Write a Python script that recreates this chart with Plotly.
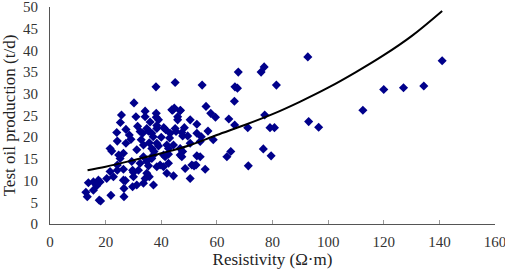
import plotly.graph_objects as go

# Scatter data: resistivity (ohm·m) vs test oil production (t/d)
resistivity = [
    67.7, 45.0, 38.1, 54.7, 66.5, 67.4, 30.2, 66.3, 56.1, 25.7,
    30.9, 34.2, 34.2, 38.2, 38.2, 39.0, 44.1, 46.9, 45.9, 45.9,
    50.4, 57.8, 59.5, 64.3, 25.3, 52.8, 56.8, 66.4, 71.1, 27.3,
    24.0, 34.8, 35.4, 32.4, 33.3, 36.6, 37.1, 38.4, 38.4, 40.9,
    41.6, 43.2, 45.0, 45.3, 47.4, 47.7, 48.3, 49.5, 52.8, 54.4,
    29.1, 24.2, 21.6, 22.2, 27.3, 32.8, 33.6, 35.7, 31.2, 36.6,
    37.4, 38.4, 39.0, 42.0, 42.6, 44.4, 46.8, 47.7, 50.4, 54.0,
    58.7, 24.7, 25.2, 26.4, 29.4, 29.7, 30.0, 26.4, 24.2, 21.6,
    20.4, 22.8, 26.4, 27.1, 30.0, 31.2, 29.7, 33.6, 37.2, 26.6,
    21.9, 26.6, 17.7, 18.2, 12.9, 13.4, 13.8, 15.6, 17.0, 17.4,
    18.0, 15.6, 16.8, 24.2, 33.6, 34.8, 35.4, 36.6, 37.2, 32.4,
    31.8, 34.8, 35.7, 34.2, 38.4, 39.6, 40.8, 42.0, 42.6, 44.4,
    40.8, 41.4, 42.6, 46.8, 47.4, 48.6, 50.4, 51.0, 51.8, 52.5,
    52.8, 54.0, 55.8, 63.6, 65.0, 43.8, 44.7, 46.8, 77.0, 75.9,
    81.4, 92.7, 141.0, 120.0, 127.1, 134.4, 112.5, 77.2, 79.1, 80.7,
    93.0, 96.6, 76.7, 79.5, 71.3, 28.5, 31.5, 36.0, 40.0, 43.0,
]
production = [
    35.0, 32.6, 31.6, 32.0, 31.6, 31.3, 27.9, 28.3, 27.1, 25.1,
    24.7, 26.0, 24.7, 25.5, 24.6, 24.0, 26.2, 26.2, 24.7, 24.0,
    24.0, 25.5, 24.6, 24.2, 23.4, 23.0, 21.4, 22.8, 22.2, 21.8,
    21.1, 22.0, 21.4, 21.3, 20.9, 20.9, 20.1, 22.7, 22.0, 22.2,
    21.7, 20.9, 22.0, 21.3, 21.1, 20.3, 22.2, 20.3, 20.9, 20.1,
    19.5, 19.1, 17.4, 16.8, 18.6, 19.4, 18.2, 18.7, 17.1, 17.4,
    16.7, 18.6, 18.0, 18.2, 17.4, 18.2, 17.4, 16.7, 18.6, 19.0,
    19.4, 15.9, 15.1, 16.3, 14.4, 12.4, 11.9, 12.6, 12.4, 12.1,
    10.5, 10.9, 10.1, 10.0, 10.9, 9.0, 8.6, 9.4, 9.0, 8.2,
    6.6, 6.3, 5.5, 5.3, 7.3, 6.3, 9.5, 9.7, 9.5, 10.1,
    9.7, 7.8, 8.8, 13.6, 15.5, 14.4, 13.4, 15.1, 15.9, 14.0,
    12.4, 11.7, 10.9, 10.5, 13.2, 13.6, 13.2, 11.7, 14.0, 11.1,
    15.9, 15.5, 16.1, 15.9, 15.5, 12.8, 10.5, 13.6, 13.4, 13.6,
    15.7, 15.5, 12.6, 15.5, 16.7, 26.3, 26.7, 26.1, 36.2, 35.0,
    32.0, 38.5, 37.6, 31.0, 31.4, 31.8, 26.2, 25.1, 22.2, 22.2,
    23.6, 22.3, 17.3, 15.7, 13.4, 20.5, 22.5, 23.5, 20.0, 19.8,
]

# Trend curve
curve_x = [13.5, 20, 30, 40, 50, 60, 70, 80, 90, 100, 110, 120, 130, 141]
curve_y = [12.4, 13.2, 14.7, 16.3, 18.1, 20.5, 22.8, 25.3, 28.2, 31.4, 35.0, 38.9, 43.3, 49.1]

x_ticks = [0, 20, 40, 60, 80, 100, 120, 140, 160]
y_ticks = [0, 5, 10, 15, 20, 25, 30, 35, 40, 45, 50]

FONT = "Liberation Serif, Times New Roman, serif"

fig = go.Figure()
fig.add_trace(go.Scatter(
    x=resistivity, y=production, mode="markers",
    marker=dict(symbol="diamond", size=7, color="#00008B", line=dict(width=0)),
    showlegend=False, cliponaxis=False,
))
fig.add_trace(go.Scatter(
    x=curve_x, y=curve_y, mode="lines", line_shape="spline",
    line=dict(color="black", width=2), showlegend=False,
))

fig.update_layout(
    width=505, height=276,
    margin=dict(l=50, r=10, t=7, b=52),
    paper_bgcolor="white", plot_bgcolor="white",
    font=dict(family=FONT, size=15, color="#333333"),
    xaxis=dict(
        range=[0, 160], tickvals=x_ticks, showgrid=False, zeroline=False,
        showline=True, linecolor="#555555", linewidth=1,
        ticks="inside", ticklen=4, tickcolor="#999999",
        ticklabelstandoff=4, automargin=False, ticklabeloverflow="allow",
        title=dict(text="Resistivity (Ω·m)", font=dict(size=17, color="#222222"), standoff=3),
    ),
    yaxis=dict(
        range=[0, 50], tickvals=y_ticks, showgrid=False, zeroline=False,
        showline=True, linecolor="#555555", linewidth=1,
        ticklabelstandoff=8, automargin=False, ticklabeloverflow="allow",
        title=dict(text="Test oil production (t/d)", font=dict(size=17, color="#222222"), standoff=5),
    ),
)

fig.write_html(
    "out.html",
    config={"displayModeBar": False},
    post_script="document.body.style.margin='0';document.body.style.overflow='hidden';",
)
